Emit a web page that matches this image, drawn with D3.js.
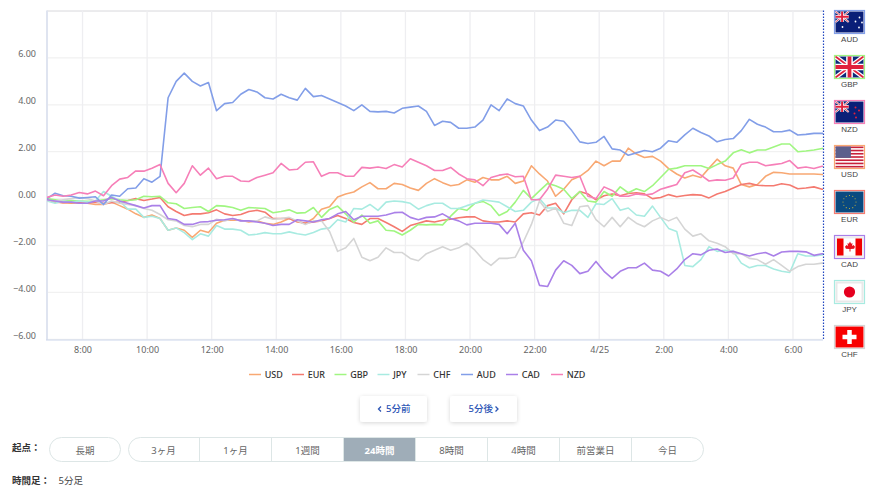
<!DOCTYPE html>
<html>
<head>
<meta charset="utf-8">
<script src="https://cdn.jsdelivr.net/npm/d3@7"></script>
<style>
  html, body { margin: 0; padding: 0; background: #fff; }
  svg { display: block; font-family: "Noto Sans", "Noto Sans CJK JP", sans-serif; }
</style>
</head>
<body>
<div id="chart"></div>
<script>
// samples every 15 minutes, hours counted from 0:00 on 4/24
const startHour = 6.9;
const stepHour = 0.25;

const usd = [-.05,-.15,-.18,-.2,-.18,-.2,-.25,-.25,-.15,-.3,-.45,-.65,-.8,-.7,-.85,-1.35,-1.25,-1.35,-1.65,-1.35,-1.45,-1.05,-.92,-.92,-.92,-1,-.95,-1.05,-1.1,-1,-.85,-1,
  -1.05,-.85,-.45,-.35,.07,.2,.28,.5,.68,.42,.42,.65,.6,.45,.35,.65,.85,.68,.55,.6,.8,.7,.9,.8,.8,.95,.65,.75,1.4,1.05,.75,.1,.4,.8,.95,
  1.2,1.6,1.4,1.6,1.6,2.15,1.9,1.75,1.8,1.6,1.28,1.05,.88,1,.9,1.3,1.68,1.4,1.3,.6,.5,.6,.95,1.12,1.1,1.05,1.05,1.05,1.05,1.03,1];
const eur = [-.05,-.12,-.18,-.15,-.18,-.18,-.15,-.2,-.18,-.15,-.08,0,-.08,-.02,.05,-.35,-.55,-.72,-.65,-.65,-.6,-.48,-.65,-.72,-.68,-.55,-.5,-.58,-.85,-.85,-.85,-.98,
  -1.05,-1,-.95,-.85,-.72,-.85,-1.02,-1.1,-.85,-.85,-1.02,-1.2,-1.4,-1.15,-1.05,-.95,-1,-.92,-.88,-.82,-.78,-.78,-.95,-1,-1,-.95,-1,-.65,-.6,-.7,-.3,-.2,-.65,-.05,.3,
  .2,-.05,.12,.2,.12,.22,.25,.2,0,.05,.17,.08,.13,.17,.15,.03,.2,.3,.45,.6,.65,.57,.55,.55,.63,.58,.42,.45,.5,.4,.4];
const gbp = [0,-.05,-.1,-.08,-.1,-.12,-.1,-.05,0,-.05,-.08,-.05,.1,.08,.1,-.18,-.22,-.42,-.38,-.35,-.55,-.3,-.32,-.38,-.5,-.38,-.4,-.42,-.6,-.55,-.48,-.62,
  -.6,-.38,-.8,-.46,-.32,-.65,-1,-.7,-1.05,-.95,-1.35,-1.38,-1.55,-1.35,-1.1,-1.12,-1.1,-1.12,-.75,-.42,-.5,-.2,-.12,-.3,-.72,-.55,-.15,.35,0,.33,.65,.55,.4,0,.3,
  -.1,-.15,.3,.1,.5,.25,.42,.3,.55,.9,1.25,1.3,1.4,1.4,1.4,1.28,1.45,1.6,1.95,2.08,1.95,2.07,2.07,2.2,2.33,2.33,2,2.03,2.07,2.14,2.13];
const jpy = [-.1,-.2,-.1,-.15,-.1,-.15,-.1,.3,.1,-.1,-.45,-.45,-.8,-.75,-.85,-1.35,-1.25,-1.45,-1.75,-1.5,-1.6,-1.15,-1.3,-1.3,-1.35,-1.55,-1.52,-1.45,-1.5,-1.5,-1.42,-1.5,
  -1.55,-1.45,-1.3,-1.25,-.9,-1,-.42,-.45,-.25,-.5,-.15,-.1,-.13,-.2,-.45,-.3,-.2,-.2,-.42,-.42,-.3,-.2,-.06,-.1,-.15,-.35,-.55,-.5,-.15,0,-.4,-.4,-.6,-.5,-.5,
  -.8,-.22,-.25,0,-.5,-.4,-.7,-.75,-.32,-.8,-1.27,-1.4,-2.85,-2.9,-2.6,-2.05,-2.25,-2.2,-2.25,-2.75,-2.95,-2.85,-2.85,-3,-3.1,-3.15,-2.35,-2.45,-2.45,-2.4,-2.35];
const chf = [-.08,-.1,-.05,0,.05,0,-.1,-.25,-.1,-.2,-.25,-.3,-.42,-.5,-.68,-.9,-.95,-1.15,-1.2,-1.1,-1.1,-.88,-.95,-.85,-.95,-.95,-.95,-.78,-.88,-.85,-.8,-.95,
  -1.1,-.95,-.95,-1.4,-2.25,-2.1,-1.7,-2.5,-2.65,-2.5,-2.1,-2.3,-2.3,-2.55,-2.65,-2.35,-2.2,-2.05,-2.2,-2.1,-1.9,-2.2,-2.6,-2.85,-2.55,-2.55,-2.5,-1.85,-1.1,-.1,-.55,-.4,-1.05,-1.15,-.35,
  -.3,-.9,-1.2,-.8,-1.2,-.8,-1.05,-1.2,-.95,-.8,-.95,-.8,-1.3,-1.6,-1.5,-1.8,-1.9,-2.05,-2.35,-2.35,-2.55,-2.6,-2.8,-2.6,-2.85,-3.1,-2.9,-2.8,-2.8,-2.75,-2.85];
const aud = [0,.23,.12,.1,.02,.05,.08,-.25,.15,.1,.42,.45,.85,.7,.95,4.3,5,5.35,5,4.8,4.95,3.75,4.05,4.1,4.45,4.65,4.55,4.3,4.25,4.45,4.3,4.2,
  4.7,4.35,4.4,4.25,4.1,3.95,3.75,4,3.72,3.7,3.72,3.65,3.85,3.9,3.95,3.72,3.12,3.3,3.25,3,3,3.05,3.35,4,3.75,4.25,4.05,3.95,3.35,2.9,3.05,3.35,3.3,2.9,2.42,
  2.35,2.4,2.65,2.12,2.07,1.85,1.95,2.05,2,2.15,2.47,2.4,2.72,3,2.82,2.67,2.42,2.52,2.56,2.9,3.38,3.17,3.05,2.85,2.85,2.92,2.71,2.74,2.78,2.78,2.78];
const cad = [-.05,-.1,-.15,-.15,-.2,-.2,-.1,-.1,.05,-.1,-.2,-.3,-.4,-.3,-.3,-.85,-.9,-1.1,-1.1,-1,-.98,-.92,-.9,-.85,-.95,-.95,-1,-1.05,-1.15,-1.1,-1.1,-.9,
  -.95,-1,-.9,-.85,-.65,-.55,-.9,-.75,-.75,-.75,-.7,-.6,-.58,-.8,-.9,-.8,-.78,-.65,-.85,-.95,-1.12,-1.05,-1.05,-1.05,-1.1,-1.5,-1.05,-2.2,-2.65,-3.7,-3.75,-3.05,-2.65,-2.85,-3.2,
  -3.1,-2.68,-3.1,-3.4,-3.1,-2.95,-2.95,-2.75,-3.05,-3.1,-3.3,-3,-2.6,-2.35,-2.4,-2.2,-2.15,-2.3,-2.25,-2.35,-2.45,-2.35,-2.3,-2.45,-2.28,-2.25,-2.25,-2.27,-2.42,-2.35,-2.35];
const nzd = [.05,.15,.1,.15,.26,.2,.32,.12,.55,.83,.9,1.18,1.17,1.29,1.45,.65,.25,.65,1.4,1,1.3,.85,.95,.95,.75,.73,.9,1,1.1,1.5,1.22,1.25,
  1.55,1.57,.95,1.1,1.1,.95,.95,1.33,1.3,1.35,1.28,1.45,1.35,1.7,1.55,1.4,1.2,1.2,1.33,1.05,.85,.8,.55,.9,1,1.05,.93,.95,-.05,-.05,.4,1,.95,.9,.95,
  .1,0,.5,.35,.1,.1,.2,.15,.2,.4,.5,.6,1.1,1.22,1,.75,.8,.78,.88,1.45,1.55,1.55,1.4,1.45,1.5,1.62,1.3,1.35,1.28,1.38,1.38];

const seriesNames = ["USD", "EUR", "GBP", "JPY", "CHF", "AUD", "CAD", "NZD"];
const seriesValues = [usd, eur, gbp, jpy, chf, aud, cad, nzd];
const seriesColors = ["#f8a873", "#f47a70", "#a0f681", "#a8ebe1", "#d5d5d5", "#829ee8", "#aa80e8", "#f67fb8"];

const yTicks = [-6, -4, -2, 0, 2, 4, 6];
const xTickHours = [8, 10, 12, 14, 16, 18, 20, 22, 24, 26, 28, 30];
const xTickLabels = ["8:00", "10:00", "12:00", "14:00", "16:00", "18:00", "20:00", "22:00", "4/25", "2:00", "4:00", "6:00"];
const flagOrder = ["AUD", "GBP", "NZD", "USD", "EUR", "CAD", "JPY", "CHF"];
const periodLabels = ["3ヶ月", "1ヶ月", "1週間", "24時間", "8時間", "4時間", "前営業日", "今日"];
const activePeriod = "24時間";

const width = 875, height = 497;
const plotLeft = 47, plotRight = 823, plotTop = 10.5, plotBottom = 340;

const svg = d3.select("#chart").append("svg")
  .attr("width", width)
  .attr("height", height);

const x = d3.scaleLinear().domain([6.9, 30.93]).range([plotLeft, plotRight]);
const y = d3.scaleLinear().domain([-6, 8]).range([339.3, 11]);
const colorOf = d3.scaleOrdinal().domain(seriesNames).range(seriesColors);

// grid
svg.append("g").selectAll("line").data(yTicks.concat([8])).join("line")
  .attr("x1", plotLeft).attr("x2", plotRight)
  .attr("y1", d => y(d)).attr("y2", d => y(d))
  .attr("stroke", d => d === 8 ? "#d8d8dc" : "#f1f1f1")
  .attr("stroke-width", d => d === 8 ? 1 : 1.3);
svg.append("g").selectAll("line").data(xTickHours).join("line")
  .attr("x1", d => x(d)).attr("x2", d => x(d))
  .attr("y1", plotTop).attr("y2", plotBottom)
  .attr("stroke", "#eeeef1")
  .attr("stroke-width", 1.3);

// axes
const yAxis = svg.append("g")
  .attr("transform", `translate(${plotLeft},0)`)
  .call(d3.axisLeft(y).tickValues(yTicks).tickFormat(d3.format(".2f")).tickSize(0).tickPadding(11));
yAxis.select(".domain").remove();
yAxis.selectAll("text")
  .attr("dy", "-1.3px")
  .attr("fill", "#666")
  .attr("font-family", "'Noto Sans', sans-serif")
  .attr("font-size", 9);

const xAxis = svg.append("g")
  .attr("transform", `translate(0,${plotBottom})`)
  .call(d3.axisBottom(x).tickValues(xTickHours)
    .tickFormat((d, i) => xTickLabels[i]).tickSize(0).tickPadding(7));
xAxis.select(".domain").remove();
xAxis.selectAll("text")
  .attr("fill", "#666")
  .attr("font-family", "'Noto Sans', sans-serif")
  .attr("font-size", 9);

svg.append("line")
  .attr("x1", plotLeft).attr("x2", plotLeft).attr("y1", plotTop).attr("y2", plotBottom)
  .attr("stroke", "#dfe4f0").attr("stroke-width", 2);
svg.append("line")
  .attr("x1", plotLeft - 1).attr("x2", plotRight).attr("y1", plotBottom).attr("y2", plotBottom)
  .attr("stroke", "#ccd6eb").attr("stroke-width", 1);

// lines
svg.append("clipPath").attr("id", "plot-clip").append("rect")
  .attr("x", plotLeft).attr("y", plotTop).attr("width", plotRight - plotLeft).attr("height", plotBottom - plotTop);

const line = d3.line()
  .x((d, i) => x(startHour + i * stepHour))
  .y(d => y(d));

svg.append("g").attr("clip-path", "url(#plot-clip)")
  .selectAll("path").data(seriesNames).join("path")
  .attr("d", (d, i) => line(seriesValues[i]))
  .attr("fill", "none")
  .attr("stroke", d => colorOf(d))
  .attr("stroke-width", 1.6)
  .attr("stroke-linejoin", "round");

svg.append("line")
  .attr("x1", plotRight + .5).attr("x2", plotRight + .5).attr("y1", plotTop).attr("y2", plotBottom)
  .attr("stroke", "#1f45c0").attr("stroke-width", 1.2).attr("stroke-dasharray", "1.5,1.5");

// legend
const legendX = [249, 292, 334.5, 377.5, 417.5, 461, 506, 551];
const legend = svg.append("g").selectAll("g").data(seriesNames).join("g")
  .attr("transform", (d, i) => `translate(${legendX[i]},374.5)`);
legend.append("line")
  .attr("x2", 12)
  .attr("stroke", d => colorOf(d))
  .attr("stroke-width", 1.5);
legend.append("text")
  .attr("x", 15.7).attr("dy", "3.3px")
  .attr("fill", "#333")
  .attr("font-size", 9)
  .attr("font-weight", 500)
  .text(d => d);

// flags
function ukFlag(g, w, h) {
  const cross = (sw, col) => {
    g.append("path").attr("d", `M0,0L${w},${h}M${w},0L0,${h}`).attr("stroke", col).attr("stroke-width", sw);
  };
  g.append("rect").attr("width", w).attr("height", h).attr("fill", "#0c2a7a");
  cross(h * .2, "#fff");
  cross(h * .08, "#e0213d");
  g.append("path").attr("d", `M${w / 2},0V${h}M0,${h / 2}H${w}`).attr("stroke", "#fff").attr("stroke-width", h * .32);
  g.append("path").attr("d", `M${w / 2},0V${h}M0,${h / 2}H${w}`).attr("stroke", "#e0213d").attr("stroke-width", h * .18);
}
function starDots(g, pts, col, r) {
  g.selectAll("circle.star").data(pts).join("circle").attr("class", "star")
    .attr("cx", d => d[0]).attr("cy", d => d[1]).attr("r", r).attr("fill", col);
}
const flagDrawers = {
  AUD(g, w, h) {
    g.append("rect").attr("width", w).attr("height", h).attr("fill", "#0a1f78");
    ukFlag(g.append("g"), w * .47, h * .5);
    starDots(g, [[7, 15.5], [20, 10], [24, 6], [23.5, 16], [26.5, 11]], "#fff", .9);
  },
  GBP(g, w, h) { ukFlag(g, w, h); },
  NZD(g, w, h) {
    g.append("rect").attr("width", w).attr("height", h).attr("fill", "#0a1f78");
    ukFlag(g.append("g"), w * .47, h * .5);
    starDots(g, [[20, 6], [23.5, 9], [19, 12], [20.5, 16]], "#e0213d", 1);
  },
  USD(g, w, h) {
    g.append("rect").attr("width", w).attr("height", h).attr("fill", "#fff");
    g.selectAll("rect.stripe").data(d3.range(0, 7)).join("rect").attr("class", "stripe")
      .attr("y", d => d * 2 * h / 13).attr("width", w).attr("height", h / 13).attr("fill", "#c8213b");
    g.append("rect").attr("width", w * .55).attr("height", h * .54).attr("fill", "#5c5f8c");
  },
  EUR(g, w, h) {
    g.append("rect").attr("width", w).attr("height", h).attr("fill", "#0a4a80");
    starDots(g, d3.range(12).map(i => [w / 2 + 6.5 * Math.sin(i * Math.PI / 6), h / 2 + 6.5 * Math.cos(i * Math.PI / 6)]), "#c9b43a", .55);
  },
  CAD(g, w, h) {
    g.append("rect").attr("width", w).attr("height", h).attr("fill", "#eee");
    g.append("rect").attr("x", 1.5).attr("y", 2).attr("width", w - 3).attr("height", h - 4).attr("fill", "#fff");
    g.append("rect").attr("x", 1.5).attr("y", 2).attr("width", 6.5).attr("height", h - 4).attr("fill", "#f00000");
    g.append("rect").attr("x", w - 8).attr("y", 2).attr("width", 6.5).attr("height", h - 4).attr("fill", "#f00000");
    g.append("path")
      .attr("d", "M14.5,5L15.6,7.2L17,6.6L16.5,9.5L18,8.5L19.5,10.2L18.6,12.3L15,12.6V15H14V12.6L10.4,12.3L9.5,10.2L11,8.5L12.5,9.5L12,6.6L13.4,7.2Z")
      .attr("fill", "#e8101c");
  },
  JPY(g, w, h) {
    g.append("rect").attr("width", w).attr("height", h).attr("fill", "#e9e9e9");
    g.append("rect").attr("x", 2).attr("y", 2).attr("width", w - 4).attr("height", h - 4).attr("fill", "#fff");
    g.append("circle").attr("cx", w / 2).attr("cy", h / 2).attr("r", 5.6).attr("fill", "#e5001f");
  },
  CHF(g, w, h) {
    g.append("rect").attr("width", w).attr("height", h).attr("fill", "#f80000");
    g.append("path").attr("d", `M${w / 2},${h / 2 - 7}V${h / 2 + 7}M${w / 2 - 7},${h / 2}H${w / 2 + 7}`)
      .attr("stroke", "#fff").attr("stroke-width", 4.5);
  }
};
const flagRow = svg.append("g").selectAll("g").data(flagOrder).join("g")
  .attr("transform", (d, i) => `translate(834.5,${10.5 + i * 45})`);
flagRow.each(function (d) {
  const g = d3.select(this);
  flagDrawers[d](g.append("g").attr("transform", "translate(1,1)"), 28, 21);
  g.append("rect").attr("width", 30).attr("height", 23).attr("fill", "none")
    .attr("stroke", colorOf(d)).attr("stroke-width", 1.2);
});
flagRow.append("text")
  .attr("x", 15).attr("y", 31.5)
  .attr("text-anchor", "middle")
  .attr("fill", "#444")
  .attr("font-family", "'Liberation Sans', sans-serif")
  .attr("font-size", 8)
  .text(d => d);

// nav buttons
const defs = svg.append("defs");
const btnShadow = defs.append("filter").attr("id", "btn-shadow")
  .attr("x", "-20%").attr("y", "-30%").attr("width", "140%").attr("height", "170%");
btnShadow.append("feDropShadow").attr("dx", 0).attr("dy", 1).attr("stdDeviation", 2)
  .attr("flood-color", "#000").attr("flood-opacity", .16);

const navButtons = [
  { x: 360, label: "5分前", textX: 386, chevron: "M381,406.5L378.5,409L381,411.5" },
  { x: 450, label: "5分後", textX: 468.5, chevron: "M495.5,406.5L498,409L495.5,411.5" }
];
const navGroups = svg.append("g").selectAll("g").data(navButtons).join("g");
navGroups.append("rect")
  .attr("x", d => d.x).attr("y", 396).attr("width", 67).attr("height", 26).attr("rx", 3)
  .attr("fill", "#fff").attr("filter", "url(#btn-shadow)");
navGroups.append("text")
  .attr("x", d => d.textX).attr("y", 411.5)
  .attr("fill", "#2c55b5")
  .attr("font-size", 9.5)
  .attr("font-weight", 500)
  .text(d => d.label);
navGroups.append("path")
  .attr("d", d => d.chevron)
  .attr("fill", "none").attr("stroke", "#2c55b5").attr("stroke-width", 1.3);

// period selector
const pillBorder = "#dde6e6";
const pillY = 437.5, pillH = 24;
svg.append("text").attr("x", 12).attr("y", 451).attr("fill", "#333")
  .attr("font-size", 9.5).attr("font-weight", 700).text("起点：");
svg.append("rect").attr("x", 49.5).attr("y", pillY).attr("width", 71).attr("height", pillH)
  .attr("rx", 12).attr("fill", "#fff").attr("stroke", pillBorder);
svg.append("text").attr("x", 85).attr("y", 453.5).attr("text-anchor", "middle")
  .attr("fill", "#666").attr("font-size", 9.5).text("長期");

const cellW = 72, cellX0 = 127.5;
svg.append("rect").attr("x", 128.5).attr("y", pillY).attr("width", 575).attr("height", pillH)
  .attr("rx", 12).attr("fill", "#fff").attr("stroke", pillBorder);
const cells = svg.append("g").selectAll("g").data(periodLabels).join("g")
  .attr("transform", (d, i) => `translate(${cellX0 + i * cellW},0)`);
cells.filter(d => d === activePeriod).append("rect")
  .attr("y", pillY + .5).attr("width", cellW).attr("height", pillH - 1).attr("fill", "#9fadb8");
cells.filter((d, i) => i > 0).append("line")
  .attr("y1", pillY).attr("y2", pillY + pillH)
  .attr("stroke", pillBorder);
cells.append("text")
  .attr("x", cellW / 2).attr("y", 453.5)
  .attr("text-anchor", "middle")
  .attr("fill", d => d === activePeriod ? "#fff" : "#666")
  .attr("font-weight", d => d === activePeriod ? 700 : 400)
  .attr("font-size", 9.5)
  .text(d => d);

svg.append("text").attr("x", 12).attr("y", 484).attr("fill", "#333")
  .attr("font-size", 9.5).attr("font-weight", 700).text("時間足：");
svg.append("text").attr("x", 58.5).attr("y", 484).attr("fill", "#444")
  .attr("font-size", 9.5).text("5分足");
</script>
</body>
</html>
